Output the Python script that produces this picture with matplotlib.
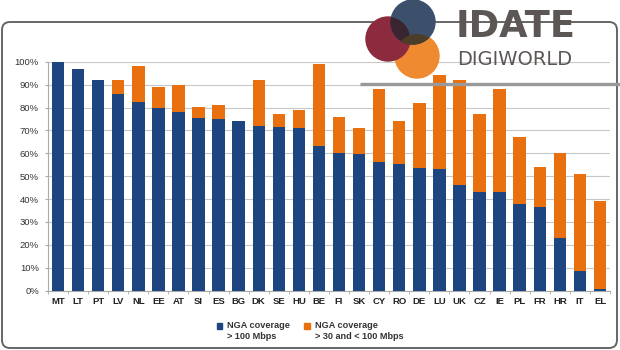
import matplotlib
matplotlib.use("Agg")
import matplotlib.pyplot as plt
from matplotlib.patches import Circle, FancyBboxPatch, Rectangle, Patch
from matplotlib.legend_handler import HandlerPatch
import numpy as np

plt.rcParams['font.family'] = ['Liberation Sans', 'DejaVu Sans']

countries = ['MT', 'LT', 'PT', 'LV', 'NL', 'EE', 'AT', 'SI', 'ES', 'BG', 'DK', 'SE', 'HU', 'BE',
             'FI', 'SK', 'CY', 'RO', 'DE', 'LU', 'UK', 'CZ', 'IE', 'PL', 'FR', 'HR', 'IT', 'EL']
# NGA coverage > 100 Mbps (%)
above_100 = [100, 97, 92, 86, 82.5, 80, 78, 75.5, 75, 74, 72, 71.5, 71, 63,
             60, 59.5, 56, 55.2, 53.7, 53.3, 46, 43, 43, 38, 36.7, 23, 8.7, 0.9]
# total NGA coverage (> 30 Mbps) (%)
total_nga = [100, 97, 92, 92, 98, 89, 90, 80, 81, 74, 92, 77, 79, 99,
             76, 71, 88, 74, 82, 94, 92, 77, 88, 67, 54, 60, 51, 39]
y_ticks = list(range(0, 101, 10))
legend_labels = ['NGA coverage\n> 100 Mbps', 'NGA coverage\n> 30 and < 100 Mbps']

blue = '#1d4580'
orange = '#e8700f'
grey_text = '#5c5655'

fast = np.array(above_100)
mid = np.array(total_nga) - fast
x = np.arange(len(countries))

fig = plt.figure(figsize=(6.2, 3.5), dpi=100)
ax = fig.add_axes([48 / 620, 1 - 290.7 / 350, 562 / 620, 229 / 350])

ax.bar(x, fast, width=0.62, color=blue, zorder=3)
ax.bar(x, mid, bottom=fast, width=0.62, color=orange, zorder=3)

ax.set_xlim(-0.47, len(countries) - 0.53)
ax.set_ylim(0, 100)
ax.set_yticks(y_ticks)
ax.set_yticklabels([f'{v}%' for v in y_ticks], fontsize=6.8, color='#333333')
ax.set_xticks(x)
ax.set_xticklabels(countries, fontsize=6.8, fontweight='bold', color='#222222')
ax.set_xticks(np.arange(len(countries) + 1) - 0.5, minor=True)
ax.tick_params(axis='x', which='major', length=0, pad=4.5)
ax.tick_params(axis='x', which='minor', length=2.5, color='#aaaaaa', direction='out')
ax.tick_params(axis='y', length=2.5, color='#aaaaaa', pad=4)
ax.grid(axis='y', color='#c8c8c8', linewidth=0.8, zorder=0)
for side in ['top', 'right']:
    ax.spines[side].set_visible(False)
ax.spines['left'].set_color('#aaaaaa')
ax.spines['bottom'].set_color('#aaaaaa')


def square_top(legend, orig_handle, xdescent, ydescent, width, height, fontsize):
    s = 4.0
    return Rectangle((width - s - xdescent, height / 2 - s / 2 + 4.0 - ydescent), s, s)


handles = [Patch(color=blue), Patch(color=orange)]
fig.legend(handles, legend_labels, loc='upper center', bbox_to_anchor=(0.5, 1 - 315 / 350),
           ncol=2, frameon=False, prop={'size': 6.6, 'weight': 'bold'}, labelcolor='#333333',
           handlelength=0.6, handletextpad=0.5, columnspacing=1.6, borderpad=0.2,
           handler_map={Patch: HandlerPatch(patch_func=square_top)})

# frame and logo overlay in pixel coordinates
ov = fig.add_axes([0, 0, 1, 1], zorder=5)
ov.set_xlim(0, 620)
ov.set_ylim(350, 0)
ov.axis('off')
ov.patch.set_alpha(0)

ov.add_patch(FancyBboxPatch((2, 22), 615, 326, boxstyle='round,pad=0,rounding_size=8',
                            facecolor='none', edgecolor='#666666', linewidth=1.4))
ov.plot([360, 620], [84, 84], color='#999999', linewidth=2.4, solid_capstyle='butt')

c_orange = Circle((417, 56), 22, color='#f08a30', zorder=2)
c_red = Circle((388, 39), 22, color='#8c2b3e', zorder=3)
c_blue = Circle((413, 22), 22, color='#3c4f6b', zorder=4)
for c in [c_orange, c_red, c_blue]:
    ov.add_patch(c)
ov_rb = Circle((413, 22), 22, color='#3a2430', zorder=5)
ov.add_patch(ov_rb)
ov_rb.set_clip_path(c_red)
ov_bo = Circle((413, 22), 22, color='#4b3d27', zorder=5)
ov.add_patch(ov_bo)
ov_bo.set_clip_path(c_orange)

ov.text(456, 37, 'IDATE', fontsize=26.5, fontweight='bold', color=grey_text, family='DejaVu Sans',
        ha='left', va='baseline', zorder=6)
ov.text(457, 65, 'DIGIWORLD', fontsize=14, color=grey_text, family='DejaVu Sans',
        ha='left', va='baseline', zorder=6)

fig.savefig('out.png', dpi=100)
